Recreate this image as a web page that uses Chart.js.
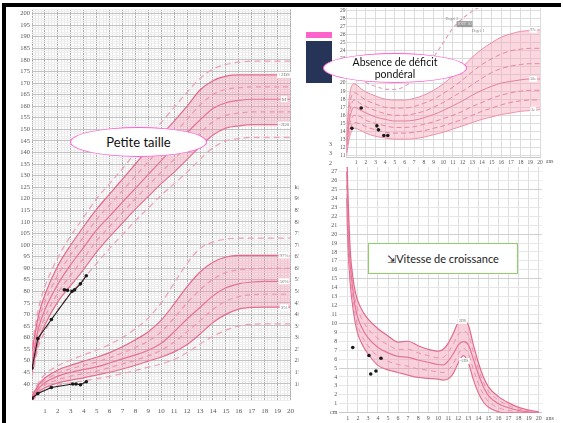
<!DOCTYPE html>
<html>
<head>
<meta charset="utf-8">
<script src="https://cdn.jsdelivr.net/npm/chart.js@4.4.1/dist/chart.umd.min.js"></script>
<style>
  html, body { margin: 0; padding: 0; background: #fff; }
  body { width: 563px; height: 423px; position: relative; overflow: hidden; font-family: Lato, "Open Sans", sans-serif; }
  canvas { position: absolute; }
  #growth { left: 0; top: 0; z-index: 1; }
  #speed { left: 301px; top: 150px; z-index: 2; background: #fff; }
  #bmi { left: 333px; top: 0; z-index: 3; background: #fff; }
  .over { position: absolute; z-index: 5; box-sizing: border-box; }
  .bar { background: #000; }
  .oval { background: #fff; border: 1.6px solid #ff5fd0; border-radius: 50%; display: flex; align-items: center; justify-content: center; text-align: center; color: #111; }
  .frame { background: #fff; border: 1.6px solid #8fd068; display: flex; align-items: center; justify-content: center; color: #222; font-size: 11px; }
  .stray { position: absolute; z-index: 4; font: 6px "Liberation Serif", serif; color: #555; }
</style>
</head>
<body>
<canvas id="growth" width="301" height="423"></canvas>
<canvas id="speed" width="262" height="273"></canvas>
<canvas id="bmi" width="230" height="167"></canvas>

<div class="stray" style="left:329px;top:141px">3</div>
<div class="stray" style="left:329px;top:150px">3</div>
<div class="stray" style="left:329px;top:160px">2</div>

<div class="over bar" style="left:2px;top:3px;width:559px;height:4px"></div>
<div class="over bar" style="left:2px;top:3px;width:4px;height:420px"></div>
<div class="over" style="left:306px;top:32px;width:26px;height:6px;background:#ff63cb"></div>
<div class="over" style="left:306px;top:41px;width:26px;height:42px;background:#253457"></div>
<div class="over oval" style="left:70px;top:127px;width:137px;height:30px;font-size:13px">Petite taille</div>
<div class="over oval" style="left:323px;top:53px;width:144px;height:30px;font-size:10.5px;line-height:12px">Absence de déficit<br>pondéral</div>
<div class="over frame" style="left:368px;top:243px;width:150px;height:31px">⇲Vitesse de croissance</div>

<script>
// ages (years) shared by the height / weight reference curves
const ages = [0, 0.5, 1, 2, 3, 4, 5, 6, 7, 8, 9, 10, 11, 12, 13, 14, 15, 16, 17, 18, 19, 20];

// height (cm): mean, +/-1, +/-2, +/-3 SD
const hMean = [49.5, 64, 72, 83, 91.5, 99, 106.5, 112.5, 118.5, 124.5, 130.5, 136.5, 142.5, 148.5, 154, 159, 161.5, 162.5, 163, 163, 163, 163];
const hP1 = [51.8, 66.8, 75.3, 87, 95.8, 103.5, 111, 117.3, 123.5, 129.8, 136, 142, 148, 154.3, 160.5, 165, 167.3, 168, 168.3, 168.3, 168.3, 168.3];
const hM1 = [47.3, 61.3, 68.8, 79.3, 87, 94.3, 101.8, 108, 114, 120, 125.8, 131.5, 137, 142.8, 148.3, 153.3, 156, 157, 157.5, 157.5, 157.5, 157.5];
const hP2 = [54, 69.5, 78.5, 91, 100, 108, 115.5, 122, 128.5, 135, 141.5, 147.5, 153.5, 160, 167, 171, 173, 173.5, 173.5, 173.5, 173.5, 173.5];
const hM2 = [45, 58.5, 65.5, 75.5, 82.5, 89.5, 97, 103.5, 109.5, 115.5, 121, 126.5, 131.5, 137, 142.5, 147.5, 150.5, 151.5, 152, 152, 152, 152];
const hP3 = [56.5, 72.5, 82, 94.5, 104, 112, 120, 126.5, 133, 140, 146.5, 153, 159.5, 166, 172, 176, 178, 179, 179.5, 179.5, 179.5, 179.5];
const hM3 = [43, 56, 62.5, 72, 79, 85.5, 92, 98.5, 104.5, 110.5, 116, 121.5, 126.5, 131.5, 137, 142, 145, 146, 146.5, 146.5, 146.5, 146.5];

// weight (kg): 50th, 97th, 3rd percentiles + dashed guides
const wMean = [3.5, 8, 10.5, 13.3, 15, 16.2, 17.3, 19, 20.8, 22.5, 24.5, 27.5, 32.5, 38, 43, 48, 51.5, 53.2, 54, 54.3, 54.3, 54.3];
const wP1 = [4, 8.8, 11.5, 14.6, 16.5, 18, 19.4, 21.2, 23.4, 25.7, 28.5, 32.5, 38.5, 45, 50.6, 55.2, 58.1, 59.3, 59.7, 59.9, 59.9, 59.9];
const wM1 = [3.1, 7.2, 9.4, 11.8, 13.3, 14.4, 15.5, 17, 18.6, 20.2, 22.1, 24.5, 28.1, 32.5, 37.2, 42.2, 45.7, 47.7, 48.5, 48.7, 48.7, 48.7];
const wP2 = [4.5, 9.5, 12.5, 16, 18, 19.8, 21.5, 23.5, 26, 29, 32.5, 37.5, 44.5, 52, 58.3, 62.5, 64.8, 65.5, 65.5, 65.5, 65.5, 65.5];
const wM2 = [2.7, 6.5, 8.3, 10.4, 11.6, 12.6, 13.8, 15, 16.4, 18, 19.8, 21.6, 23.8, 27, 31.5, 36.5, 40, 42.3, 43, 43.1, 43.1, 43.1];
const wP3 = [5, 10.5, 14, 17.8, 20.3, 22.5, 24.5, 27, 30, 33.8, 38.5, 45, 53.5, 62, 68.5, 71.3, 72.5, 73, 73, 73, 73, 73];
const wM3 = [2.3, 5.8, 7.4, 9.3, 10.4, 11.3, 12.2, 13.2, 14.4, 15.8, 17.2, 18.6, 20.5, 23.5, 27.2, 30.5, 33.2, 35, 35.7, 35.9, 35.9, 35.9];

// patient measurements
const patAgeH = [0, 0.45, 1.5, 3.1, 3.3, 3.75, 4.2];
const patHeight = [46.8, 59.6, 67.8, 80, 80.6, 83.2, 86.7];
const patAgeH2 = [2.5, 2.75];
const patHeight2 = [80.6, 80.4];
const patAgeW = [0, 0.45, 1.5, 3.15, 3.4, 3.75, 4.2];
const patWeight = [3.8, 5.8, 8.4, 9.9, 9.9, 9.6, 10.9];

// BMI percentiles
const bmiAges = [0, 0.3, 0.8, 1.5, 2, 3, 4, 5, 6, 7, 8, 9, 10, 11, 12, 13, 14, 15, 16, 17, 18, 19, 20];
const b97 = [13.5, 18.3, 19.9, 19.3, 18.9, 18.4, 18.0, 17.9, 17.9, 18.1, 18.5, 19.1, 19.9, 20.9, 22.0, 23.2, 24.2, 25.0, 25.7, 26.1, 26.4, 26.5, 26.6];
const b90 = [13.0, 17.1, 18.8, 18.3, 17.9, 17.4, 17.0, 16.9, 16.9, 17.1, 17.5, 18.0, 18.7, 19.5, 20.4, 21.4, 22.3, 23.0, 23.6, 24.0, 24.2, 24.3, 24.3];
const b75 = [12.6, 16.2, 17.9, 17.4, 17.1, 16.6, 16.2, 16.0, 16.0, 16.2, 16.5, 17.0, 17.6, 18.3, 19.0, 19.8, 20.6, 21.3, 21.8, 22.1, 22.3, 22.4, 22.4];
const b50 = [12.2, 15.4, 17.0, 16.6, 16.3, 15.8, 15.5, 15.3, 15.3, 15.4, 15.7, 16.1, 16.6, 17.2, 17.8, 18.5, 19.1, 19.6, 20.0, 20.2, 20.4, 20.5, 20.5];
const b25 = [11.8, 14.6, 16.0, 15.8, 15.4, 15.0, 14.7, 14.5, 14.5, 14.6, 14.9, 15.2, 15.6, 16.0, 16.5, 17.1, 17.6, 18.1, 18.5, 18.8, 19.0, 19.1, 19.1];
const b10 = [11.4, 13.9, 15.1, 14.9, 14.6, 14.2, 13.9, 13.8, 13.8, 13.9, 14.1, 14.4, 14.7, 15.1, 15.5, 16.0, 16.5, 16.9, 17.3, 17.6, 17.8, 17.9, 17.9];
const b3 = [11.0, 13.2, 14.4, 14.1, 13.8, 13.4, 13.2, 13.05, 13.05, 13.1, 13.3, 13.6, 13.9, 14.3, 14.7, 15.1, 15.5, 15.8, 16.1, 16.3, 16.5, 16.6, 16.7];
const obeseAges = [1.5, 2, 3, 4, 5, 6, 7, 8, 9, 10, 11, 12, 13, 14];
const obese = [20.8, 20.1, 19.6, 19.25, 19.2, 19.6, 20.4, 21.6, 23.2, 25.0, 26.8, 28.0, 28.9, 29.6];
const patAgeB = [0.56, 1.52, 3.14, 3.3, 3.86, 4.27];
const patBmi = [14.4, 16.9, 14.7, 14.2, 13.5, 13.5];

// growth velocity (cm/year)
const velAges = [0.9, 0.95, 1, 1.25, 1.5, 1.75, 2, 2.5, 3, 4, 5, 6, 7, 8, 9, 10, 10.5, 11, 11.5, 12, 12.5, 13, 13.5, 14, 14.5, 15, 16, 17, 18, 19, 20];
const vUpper = [31, 27, 25, 18, 15.2, 13.5, 12.5, 11.3, 10.5, 9.4, 8.6, 7.9, 8.0, 7.5, 7.1, 6.9, 7.1, 7.8, 8.9, 10.1, 10.3, 9.8, 7.6, 5.6, 4.0, 2.9, 1.8, 1.1, 0.6, 0.3, 0.1];
const vUpperDash = [29, 25.8, 23.2, 17.2, 14.5, 12.6, 11.5, 10.3, 9.4, 8.3, 7.6, 7.1, 7.1, 6.7, 6.4, 6.15, 6.2, 6.8, 7.7, 8.8, 9.1, 8.7, 6.8, 4.9, 3.4, 2.4, 1.4, 0.8, 0.4, 0.2, 0.05];
const vMean = [27, 24.5, 21.5, 16.5, 13.8, 11.8, 10.6, 9.3, 8.4, 7.3, 6.7, 6.3, 6.2, 5.9, 5.65, 5.4, 5.35, 5.8, 6.6, 7.6, 7.95, 7.6, 6.0, 4.3, 2.9, 1.9, 1.0, 0.55, 0.25, 0.1, 0];
const vLowerDash = [25.5, 22.8, 20.2, 15.4, 12.8, 10.9, 9.7, 8.4, 7.5, 6.3, 5.75, 5.4, 5.2, 4.9, 4.75, 4.55, 4.5, 4.8, 5.5, 6.6, 7.2, 6.6, 4.85, 3.25, 2.05, 1.25, 0.55, 0.25, 0.1, 0, 0];
const vLower = [24, 21, 19, 14.3, 11.8, 10.0, 8.8, 7.5, 6.6, 5.3, 4.8, 4.5, 4.2, 3.95, 3.85, 3.75, 3.65, 3.8, 4.4, 5.6, 6.4, 5.6, 3.7, 2.2, 1.2, 0.6, 0.1, 0, 0, 0, 0];
const patAgeV = [1.49, 3.1, 3.28, 3.8, 4.3];
const patVel = [7.3, 6.4, 4.33, 4.67, 6.1];

function pts(xs, ys) {
  return xs.map((x, i) => ({ x: x, y: ys[i] }));
}

function curve(xs, ys, color, extra) {
  return Object.assign({
    data: pts(xs, ys),
    borderColor: color,
    borderWidth: 1.2,
    pointRadius: 0,
    fill: false,
    cubicInterpolationMode: "monotone",
  }, extra || {});
}

function dots(xs, ys, line, extra) {
  return Object.assign({
    data: pts(xs, ys),
    borderColor: "#1a1a1a",
    backgroundColor: "#1a1a1a",
    borderWidth: 1.1,
    pointRadius: 1.8,
    pointBorderWidth: 0,
    showLine: line,
    fill: false,
    order: -1,
  }, extra || {});
}

// small text labels next to curves
const curveLabels = {
  id: "curveLabels",
  afterDatasetsDraw(chart, args, opts) {
    const ctx = chart.ctx;
    (opts.items || []).forEach((it) => {
      const px = chart.scales.x.getPixelForValue(it.x);
      const py = chart.scales[it.axis || "y"].getPixelForValue(it.y);
      ctx.save();
      ctx.font = (it.size || opts.size || 5) + 'px "Liberation Serif"';
      const w = ctx.measureText(it.text).width + 2;
      if (it.box !== false) {
        ctx.fillStyle = it.bg || "#fff";
        ctx.fillRect(px - w / 2, py - 3, w, 6);
      }
      ctx.fillStyle = it.color || opts.color || "#777";
      ctx.textAlign = "center";
      ctx.textBaseline = "middle";
      ctx.fillText(it.text, px, py);
      ctx.restore();
    });
  },
};

const serif = (size) => ({ family: "Liberation Serif", size: size });
const pinkLine = "#e2698d";
const pinkDash = "#ee9fb5";

// ---------- left chart: height & weight ----------
new Chart(document.getElementById("growth"), {
  type: "line",
  data: {
    datasets: [
      curve(ages, hP2, pinkLine, { fill: { target: 1 }, backgroundColor: "rgba(240,135,165,0.33)" }),
      curve(ages, hM2, pinkLine),
      curve(ages, hMean, pinkLine),
      curve(ages, hP1, pinkDash, { borderDash: [5, 4] }),
      curve(ages, hM1, pinkDash, { borderDash: [5, 4] }),
      curve(ages, hP3, pinkDash, { borderDash: [6, 4] }),
      curve(ages, hM3, pinkDash, { borderDash: [6, 4] }),
      curve(ages, wP2, pinkLine, { yAxisID: "yw", fill: { target: 8 }, backgroundColor: "rgba(240,135,165,0.33)" }),
      curve(ages, wM2, pinkLine, { yAxisID: "yw" }),
      curve(ages, wMean, pinkLine, { yAxisID: "yw" }),
      curve(ages, wP1, pinkDash, { yAxisID: "yw", borderDash: [5, 4] }),
      curve(ages, wM1, pinkDash, { yAxisID: "yw", borderDash: [5, 4] }),
      curve(ages, wP3, pinkDash, { yAxisID: "yw", borderDash: [6, 4] }),
      curve(ages, wM3, pinkDash, { yAxisID: "yw", borderDash: [6, 4] }),
      dots(patAgeH, patHeight, true),
      dots(patAgeH2, patHeight2, true),
      dots(patAgeW, patWeight, true, { yAxisID: "yw" }),
    ],
  },
  options: {
    responsive: false,
    animation: false,
    layout: { padding: { top: 9, right: 0, bottom: 0, left: 0 } },
    plugins: {
      legend: { display: false },
      tooltip: { enabled: false },
      curveLabels: {
        items: [
          { x: 19.5, y: hP2[hP2.length - 1], text: "+2DS" },
          { x: 19.5, y: hMean[hMean.length - 1], text: "M" },
          { x: 19.5, y: hM2[hM2.length - 1], text: "-2DS" },
          { x: 19.5, axis: "yw", y: wP2[wP2.length - 1], text: "97%" },
          { x: 19.5, axis: "yw", y: wMean[wMean.length - 1], text: "50%" },
          { x: 19.5, axis: "yw", y: wM2[wM2.length - 1], text: "3%" },
        ],
      },
    },
    scales: {
      x: {
        type: "linear",
        min: 0,
        max: 20,
        afterFit: (s) => { s.height = 23; },
        border: { display: false },
        grid: {
          drawTicks: false,
          color: (c) => (Number.isInteger(c.tick.value) ? "#acacac" : "#e8e8e8"),
        },
        ticks: {
          stepSize: 0.25,
          autoSkip: false,
          maxRotation: 0,
          padding: 7,
          color: "#555",
          font: serif(7),
          callback: (v) => (Number.isInteger(v) && v > 0 ? v : ""),
        },
      },
      y: {
        min: 33,
        max: 202,
        afterFit: (s) => { s.width = 32; },
        border: { display: false },
        grid: {
          drawTicks: false,
          color: (c) => (c.tick.value % 5 === 0 ? "#c2c2c2" : "#eeeeee"),
        },
        ticks: {
          stepSize: 1,
          autoSkip: false,
          padding: 2,
          color: "#555",
          font: serif(6.5),
          callback: (v) => (v % 5 === 0 && v >= 40 ? v : ""),
        },
      },
      yw: {
        position: "right",
        min: 3,
        max: 172,
        afterFit: (s) => { s.width = 8; },
        border: { display: false },
        grid: { display: false, drawTicks: false },
        ticks: {
          stepSize: 5,
          autoSkip: false,
          padding: 4,
          color: "#555",
          font: serif(6.5),
          callback: (v) => (v === 95 ? "kg" : v >= 5 && v <= 90 && v % 5 === 0 ? v : ""),
        },
      },
    },
  },
  plugins: [curveLabels],
});

// ---------- top right: BMI ----------
new Chart(document.getElementById("bmi"), {
  type: "line",
  data: {
    datasets: [
      curve(bmiAges, b97, "#eb8ea6", { borderWidth: 1, fill: { target: 6 }, backgroundColor: "rgba(245,160,180,0.42)" }),
      curve(bmiAges, b90, "#dc7592", { borderWidth: 1, borderDash: [5, 3] }),
      curve(bmiAges, b75, "#dc7592", { borderWidth: 1, borderDash: [5, 3] }),
      curve(bmiAges, b50, "#d9678a", { borderWidth: 1 }),
      curve(bmiAges, b25, "#dc7592", { borderWidth: 1, borderDash: [5, 3] }),
      curve(bmiAges, b10, "#dc7592", { borderWidth: 1, borderDash: [5, 3] }),
      curve(bmiAges, b3, "#eb8ea6", { borderWidth: 1 }),
      curve(obeseAges, obese, "#e7a0b7", { borderWidth: 1.2, borderDash: [4, 3] }),
      dots(patAgeB, patBmi, false),
    ],
  },
  options: {
    responsive: false,
    animation: false,
    layout: { padding: { top: 8, right: 23, bottom: 0, left: 0 } },
    plugins: {
      legend: { display: false },
      tooltip: { enabled: false },
      curveLabels: {
        size: 4,
        items: [
          { x: 19.3, y: b97[b97.length - 1], text: "97e" },
          { x: 19.3, y: b50[b50.length - 1], text: "50e" },
          { x: 19.3, y: b3[b3.length - 1], text: "3e" },
          { x: 10.9, y: 28.0, text: "Degré 2", box: false, color: "#888" },
          { x: 12.2, y: 27.3, text: "IOTF 30", bg: "#9a9a9a", color: "#eee" },
          { x: 13.6, y: 26.4, text: "Degré 1", box: false, color: "#888" },
          { x: 21, y: 10.3, text: "ans", size: 5.5, box: false, color: "#555" },
        ],
      },
    },
    scales: {
      x: {
        type: "linear",
        min: 0,
        max: 20,
        afterFit: (s) => { s.height = 9.7; },
        border: { color: "#c8c8c8" },
        grid: { drawTicks: false, color: "#dcdcdc" },
        ticks: {
          stepSize: 1,
          autoSkip: false,
          maxRotation: 0,
          padding: 1.5,
          color: "#555",
          font: serif(5.5),
          callback: (v) => (v > 0 ? v : ""),
        },
      },
      y: {
        min: 10.8,
        max: 29.3,
        afterFit: (s) => { s.width = 13.5; },
        border: { display: false },
        grid: { drawTicks: false, color: "#dcdcdc" },
        ticks: {
          stepSize: 1,
          autoSkip: false,
          includeBounds: false,
          padding: 1,
          color: "#555",
          font: serif(5.5),
        },
      },
    },
  },
  plugins: [curveLabels],
});

// ---------- bottom right: growth velocity ----------
new Chart(document.getElementById("speed"), {
  type: "line",
  data: {
    datasets: [
      curve(velAges, vUpper, pinkLine, { fill: { target: 4 }, backgroundColor: "rgba(240,135,165,0.38)" }),
      curve(velAges, vUpperDash, "#e59ab0", { borderWidth: 1, borderDash: [5, 4] }),
      curve(velAges, vMean, pinkLine),
      curve(velAges, vLowerDash, "#e59ab0", { borderWidth: 1, borderDash: [5, 4] }),
      curve(velAges, vLower, pinkLine),
      dots(patAgeV, patVel, false),
    ],
  },
  options: {
    responsive: false,
    animation: false,
    layout: { padding: { top: 12.7, right: 21.3, bottom: 0, left: 0 } },
    plugins: {
      legend: { display: false },
      tooltip: { enabled: false },
      curveLabels: {
        size: 4,
        items: [
          { x: 12.3, y: 10.3, text: "+2DS" },
          { x: 12.6, y: 5.8, text: "-2DS" },
          { x: 21.1, y: -0.6, text: "ans", size: 6, box: false, color: "#555" },
        ],
      },
    },
    scales: {
      x: {
        type: "linear",
        min: 0.15,
        max: 20.3,
        afterFit: (s) => { s.height = 10.3; },
        border: { color: "#c8c8c8" },
        grid: { drawTicks: false, color: "#dedede" },
        ticks: {
          stepSize: 1,
          autoSkip: false,
          includeBounds: false,
          maxRotation: 0,
          padding: 2.5,
          color: "#555",
          font: serif(6),
          callback: (v) => (v >= 1 ? v : ""),
        },
      },
      y: {
        min: 0,
        max: 28,
        afterFit: (s) => { s.width = 38.3; },
        border: { display: false },
        grid: {
          drawTicks: false,
          color: (c) => (c.tick.value % 5 === 0 ? "#cfcfcf" : "#e6e6e6"),
        },
        ticks: {
          stepSize: 1,
          autoSkip: false,
          padding: 2,
          color: "#555",
          font: serif(6),
          callback: (v) => (v === 0 ? "cm" : v <= 27 ? v : ""),
        },
      },
    },
  },
  plugins: [curveLabels],
});
</script>
</body>
</html>
